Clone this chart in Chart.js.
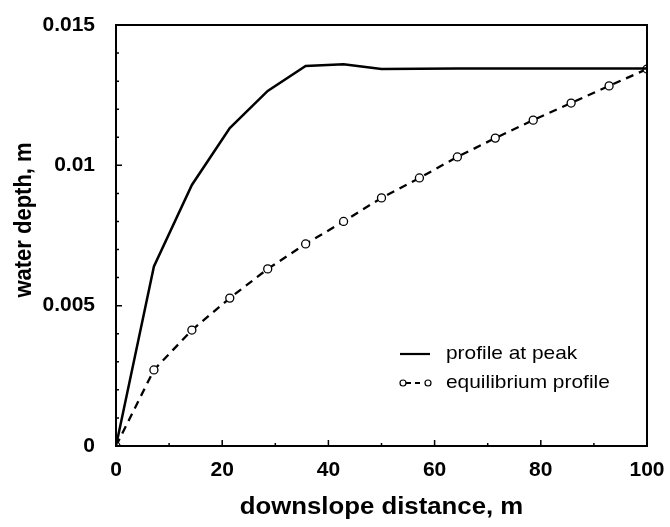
<!DOCTYPE html>
<html>
<head>
<meta charset="utf-8">
<script src="https://cdn.jsdelivr.net/npm/chart.js@4/dist/chart.umd.min.js"></script>
<style>
  html, body { margin: 0; padding: 0; background: #fff; }
  #wrap { width: 670px; height: 527px; position: relative; }
</style>
</head>
<body>
<div id="wrap"><canvas id="c" width="670" height="527"></canvas></div>
<script>
// ---- data ----
const distance = [0, 7.14, 14.29, 21.43, 28.57, 35.71, 42.86, 50, 57.14, 64.29, 71.43, 78.57, 85.71, 92.86, 100];
const peakDepth = [0, 0.0064, 0.0093, 0.01133, 0.01265, 0.01354, 0.01360, 0.01343, 0.01344, 0.01345, 0.01345, 0.01345, 0.01345, 0.01345, 0.01345];
const equilibriumDepth = [0, 0.00271, 0.00413, 0.00527, 0.00631, 0.0072, 0.0080, 0.00884, 0.00955, 0.0103, 0.01097, 0.01161, 0.01222, 0.01283, 0.01343];
const xTicks = [0, 20, 40, 60, 80, 100];
const xTickLabels = ["0", "20", "40", "60", "80", "100"];
const yTicks = [0, 0.005, 0.01, 0.015];
const yTickLabels = ["0", "0.005", "0.01", "0.015"];
const xMinorTicks = [10, 30, 50, 70, 90];
const yMinorTicks = [0.001, 0.002, 0.003, 0.004, 0.006, 0.007, 0.008, 0.009, 0.011, 0.012, 0.013, 0.014];
const seriesNames = ["profile at peak", "equilibrium profile"];
const xTitle = "downslope distance, m";
const yTitle = "water depth, m";

const FONT = "'Liberation Sans', Arial, Helvetica, sans-serif";

const decor = {
  id: 'decor',
  afterDraw(chart) {
    const ctx = chart.ctx;
    const a = chart.chartArea;
    const xs = chart.scales.x, ys = chart.scales.y;
    ctx.save();
    // frame
    ctx.strokeStyle = '#000';
    ctx.lineWidth = 2;
    ctx.strokeRect(a.left, a.top, a.right - a.left, a.bottom - a.top);
    // inward ticks
    ctx.lineWidth = 1.5;
    ctx.beginPath();
    xTicks.forEach(v => { const p = xs.getPixelForValue(v); ctx.moveTo(p, a.bottom); ctx.lineTo(p, a.bottom - 6); });
    xMinorTicks.forEach(v => { const p = xs.getPixelForValue(v); ctx.moveTo(p, a.bottom); ctx.lineTo(p, a.bottom - 3); });
    yTicks.forEach(v => { const p = ys.getPixelForValue(v); ctx.moveTo(a.left, p); ctx.lineTo(a.left + 6, p); });
    yMinorTicks.forEach(v => { const p = ys.getPixelForValue(v); ctx.moveTo(a.left, p); ctx.lineTo(a.left + 3, p); });
    ctx.stroke();

    ctx.fillStyle = '#000';
    // x title
    ctx.save();
    ctx.translate((a.left + a.right) / 2, 508);
    ctx.scale(1.12, 1);
    ctx.font = 'bold 23px ' + FONT;
    ctx.textAlign = 'center';
    ctx.textBaseline = 'middle';
    ctx.fillText(xTitle, 0, 0);
    ctx.restore();
    // y title
    ctx.save();
    ctx.translate(24, 220);
    ctx.rotate(-Math.PI / 2);
    ctx.scale(1, 1.1);
    ctx.font = 'bold 22px ' + FONT;
    ctx.textAlign = 'center';
    ctx.textBaseline = 'middle';
    ctx.fillText(yTitle, 0, 0);
    ctx.restore();

    // legend
    const lx = a.right - 247;
    const ly1 = 354, ly2 = 383;
    ctx.lineWidth = 2.2;
    ctx.setLineDash([]);
    ctx.beginPath();
    ctx.moveTo(lx, ly1); ctx.lineTo(lx + 30, ly1);
    ctx.stroke();
    // dashed sample with circles
    ctx.lineWidth = 1.8;
    ctx.setLineDash([5, 4]);
    ctx.beginPath();
    ctx.moveTo(lx + 6, ly2); ctx.lineTo(lx + 24, ly2);
    ctx.stroke();
    ctx.setLineDash([]);
    ctx.lineWidth = 1.2;
    [lx + 3, lx + 28].forEach(cx => {
      ctx.beginPath();
      ctx.arc(cx, ly2, 3, 0, Math.PI * 2);
      ctx.fillStyle = '#fff';
      ctx.fill();
      ctx.stroke();
    });
    ctx.fillStyle = '#000';
    ctx.font = '19px ' + FONT;
    ctx.textAlign = 'left';
    ctx.textBaseline = 'middle';
    [[seriesNames[0], ly1], [seriesNames[1], ly2]].forEach(([t, y]) => {
      ctx.save();
      ctx.translate(lx + 46, y);
      ctx.scale(1.1, 1);
      ctx.fillText(t, 0, 0);
      ctx.restore();
    });
    ctx.restore();
  }
};

new Chart(document.getElementById('c'), {
  type: 'line',
  data: {
    datasets: [
      {
        label: seriesNames[0],
        data: distance.map((x, i) => ({ x, y: peakDepth[i] })),
        borderColor: '#000',
        borderWidth: 2.5,
        pointRadius: 0,
        tension: 0,
        fill: false
      },
      {
        label: seriesNames[1],
        data: distance.map((x, i) => ({ x, y: equilibriumDepth[i] })),
        borderColor: '#000',
        borderWidth: 2.3,
        borderDash: [8, 6],
        pointRadius: 4,
        pointBorderWidth: 1.3,
        pointBorderColor: '#000',
        pointBackgroundColor: '#fff',
        tension: 0,
        fill: false
      }
    ]
  },
  options: {
    responsive: false,
    animation: false,
    devicePixelRatio: 1,
    layout: { padding: { left: 0, right: 23, top: 25, bottom: 0 } },
    plugins: { legend: { display: false }, tooltip: { enabled: false } },
    scales: {
      x: {
        type: 'linear',
        min: 0, max: 100,
        afterBuildTicks: s => { s.ticks = xTicks.map(v => ({ value: v })); },
        afterFit: s => { s.height = 81; s.paddingLeft = 0; s.paddingRight = 0; s.paddingTop = 0; s.paddingBottom = 0; },
        grid: { display: false, drawTicks: false },
        border: { display: false },
        ticks: {
          padding: 12,
          color: '#000',
          font: { family: FONT, size: 21, weight: 'bold' },
          maxRotation: 0,
          callback: (v, i) => xTickLabels[i]
        }
      },
      y: {
        type: 'linear',
        min: 0, max: 0.015,
        afterBuildTicks: s => { s.ticks = yTicks.map(v => ({ value: v })); },
        afterFit: s => { s.width = 116; s.paddingLeft = 0; s.paddingRight = 0; s.paddingTop = 0; s.paddingBottom = 0; },
        grid: { display: false, drawTicks: false },
        border: { display: false },
        ticks: {
          padding: 21,
          color: '#000',
          font: { family: FONT, size: 21, weight: 'bold' },
          callback: (v, i) => yTickLabels[i]
        }
      }
    }
  },
  plugins: [decor]
});
</script>
</body>
</html>
